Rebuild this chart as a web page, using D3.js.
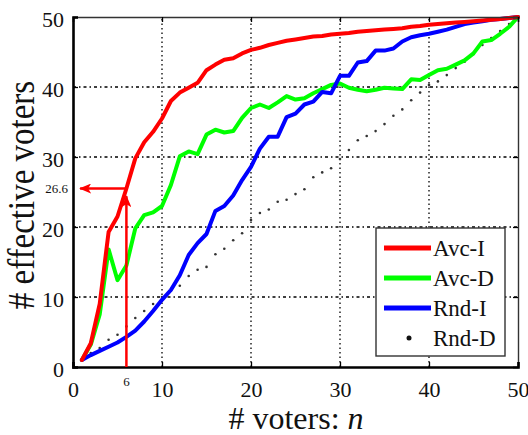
<!DOCTYPE html>
<html>
<head>
<meta charset="utf-8">
<script src="https://cdn.jsdelivr.net/npm/d3@7"></script>
<style>
  body { margin: 0; background: #fff; }
  svg text { font-family: "Liberation Serif", "Times New Roman", Times, serif; fill: #111; }
</style>
</head>
<body>
<div id="chart"></div>
<script>
// voters n = 1..50
const voters = d3.range(1, 51);

const avcI = [1, 3.4, 9, 19.3, 21.5, 25.5, 29.8, 32.1, 33.6, 35.5,
  38.0, 39.2, 39.9, 40.6, 42.4, 43.2, 43.9, 44.1, 44.8, 45.3,
  45.6, 46.0, 46.3, 46.6, 46.8, 47.0, 47.2, 47.3, 47.5, 47.6,
  47.7, 47.9, 48.0, 48.1, 48.2, 48.3, 48.4, 48.6, 48.7, 48.9,
  49.0, 49.1, 49.2, 49.3, 49.4, 49.5, 49.6, 49.7, 49.85, 50];

const avcD = [1, 3.2, 7.5, 16.8, 12.4, 14.5, 19.8, 21.7, 22.1, 23.0,
  26.0, 30.1, 30.8, 30.4, 33.2, 33.9, 33.5, 33.7, 35.6, 37.0,
  37.5, 37.0, 37.8, 38.7, 38.2, 38.4, 39.1, 39.7, 40.3, 40.5,
  39.9, 39.6, 39.4, 39.6, 39.9, 39.8, 39.7, 41.1, 41.0, 41.7,
  42.4, 42.6, 43.2, 43.8, 44.8, 46.5, 46.7, 47.6, 48.6, 50];

const rndI = [1, 1.7, 2.3, 2.9, 3.5, 4.3, 5.2, 6.5, 8.0, 9.6,
  11.0, 13.1, 16.0, 17.7, 19.0, 22.3, 23.0, 24.5, 26.7, 28.6,
  31.2, 32.9, 32.9, 35.7, 36.2, 37.5, 37.9, 39.3, 39.1, 41.6,
  41.6, 43.5, 43.7, 45.2, 45.2, 45.5, 46.5, 47.1, 47.4, 47.6,
  47.9, 48.2, 48.6, 49.0, 49.2, 49.4, 49.6, 49.7, 49.85, 50];

const rndD = [1, 2, 2.7, 3.9, 4.6, 5.8, 7.0, 8.0, 9.0, 10.0,
  10.9, 11.6, 13.0, 13.9, 14.3, 16.1, 16.9, 18.1, 19.1, 21.0,
  22.0, 22.5, 23.6, 23.9, 24.7, 25.4, 27.1, 27.8, 28.4, 29.7,
  31.0, 32.4, 33.0, 33.7, 34.7, 35.9, 36.8, 38.1, 39.2, 40.3,
  40.8, 41.7, 42.7, 43.6, 44.7, 46.0, 47.0, 48.0, 49.0, 50];

const ticks = [0, 10, 20, 30, 40, 50];
const seriesNames = ["Avc-I", "Avc-D", "Rnd-I", "Rnd-D"];
const seriesColors = ["#ff0000", "#00ff00", "#0000ff", "#222"];

// annotation: n = 6 gives 26.6 effective voters
const markN = 6;
const markLabel = "26.6";
const markLevel = 25.5;   // where the arrow is drawn in the original
const arrowTipN = 0.8;
const arrowTipEff = 24.4;

const serif = '"Liberation Serif", "Times New Roman", Times, serif';
const width = 528, height = 435;
const svg = d3.select('#chart').append('svg')
  .attr('width', width)
  .attr('height', height)
  .attr('font-family', serif)
  .style('background', '#fff');

const x = d3.scaleLinear().domain([0, 50]).range([73, 518]);
const y = d3.scaleLinear().domain([0, 50]).range([367, 17]);

// grid
const gridVals = ticks.slice(1, -1);
svg.append('g').selectAll('line').data(gridVals).enter().append('line')
  .attr('x1', d => x(d)).attr('x2', d => x(d))
  .attr('y1', y(0)).attr('y2', y(50))
  .attr('stroke', '#000').attr('stroke-width', 1.3)
  .attr('stroke-dasharray', '1.5,3');
svg.append('g').selectAll('line').data(gridVals).enter().append('line')
  .attr('y1', d => y(d)).attr('y2', d => y(d))
  .attr('x1', x(0)).attr('x2', x(50))
  .attr('stroke', '#000').attr('stroke-width', 1.3)
  .attr('stroke-dasharray', '3,3,1.5,3');

// Rnd-D dots
svg.append('g').selectAll('circle').data(voters).enter().append('circle')
  .attr('cx', (d, i) => x(d))
  .attr('cy', (d, i) => y(rndD[i]))
  .attr('r', 1.3)
  .attr('fill', '#333');

const line = d3.line()
  .x(d => x(d[0]))
  .y(d => y(d[1]));

const drawSeries = (vals, color) => {
  svg.append('path')
    .datum(voters.map((n, i) => [n, vals[i]]))
    .attr('d', line)
    .attr('fill', 'none')
    .attr('stroke', color)
    .attr('stroke-width', 4)
    .attr('stroke-linejoin', 'round')
    .attr('stroke-linecap', 'round');
};
drawSeries(avcD, seriesColors[1]);
drawSeries(rndI, seriesColors[2]);
drawSeries(avcI, seriesColors[0]);

// axes box
const axisLeft = d3.axisLeft(y).tickValues(ticks).tickSize(-5).tickPadding(9);
const axisBottom = d3.axisBottom(x).tickValues(ticks).tickSize(-5).tickPadding(14);
const axisRight = d3.axisRight(y).tickValues(ticks).tickSize(-5).tickFormat('');
const axisTop = d3.axisTop(x).tickValues(ticks).tickSize(-5).tickFormat('');

svg.append('g').attr('transform', `translate(${x(50)},0)`).call(axisRight)
  .call(g => g.select('.domain').attr('stroke', '#333').attr('stroke-width', 1.4));
svg.append('g').attr('transform', `translate(0,${y(50)})`).call(axisTop)
  .call(g => g.select('.domain').attr('stroke', '#333').attr('stroke-width', 1.4));

const gy = svg.append('g').attr('transform', `translate(${x(0)},0)`).call(axisLeft);
gy.attr('font-family', serif);
gy.select('.domain').attr('stroke', '#000').attr('stroke-width', 2.6);
gy.selectAll('.tick text')
  .attr('font-size', 22).attr('dy', '0.45em').attr('fill', '#111');

const gx = svg.append('g').attr('transform', `translate(0,${y(0)})`).call(axisBottom);
gx.attr('font-family', serif);
gx.select('.domain').attr('stroke', '#000').attr('stroke-width', 2.6);
gx.selectAll('.tick text')
  .attr('font-size', 22).attr('fill', '#111');
svg.selectAll('.tick line').attr('stroke', '#000').attr('stroke-width', 1.3);

// axis titles
svg.append('text')
  .attr('x', 296).attr('y', 429)
  .attr('text-anchor', 'middle')
  .attr('font-size', 32)
  .html('# voters: <tspan font-style="italic">n</tspan>');

svg.append('text')
  .attr('transform', `translate(34,195) rotate(-90) scale(1,1.15)`)
  .attr('text-anchor', 'middle')
  .attr('font-size', 33)
  .text('# effective voters');

// annotation arrows
const defs = svg.append('defs');
defs.append('marker')
  .attr('id', 'arrowhead')
  .attr('markerUnits', 'userSpaceOnUse')
  .attr('viewBox', '0 0 12 10')
  .attr('refX', 11).attr('refY', 5)
  .attr('markerWidth', 12).attr('markerHeight', 10)
  .attr('orient', 'auto')
  .append('path')
  .attr('d', 'M0,0 L12,5 L0,10 L3,5 Z')
  .attr('fill', '#ff0000');

svg.append('line')
  .attr('x1', x(markN)).attr('x2', x(markN))
  .attr('y1', y(0)).attr('y2', y(arrowTipEff))
  .attr('stroke', '#ff0000').attr('stroke-width', 2.5)
  .attr('marker-end', 'url(#arrowhead)');
svg.append('line')
  .attr('x1', x(markN)).attr('x2', x(arrowTipN))
  .attr('y1', y(markLevel)).attr('y2', y(markLevel))
  .attr('stroke', '#ff0000').attr('stroke-width', 2.5)
  .attr('marker-end', 'url(#arrowhead)');

svg.append('text')
  .attr('x', x(0) - 5).attr('y', y(markLevel)).attr('dy', '0.35em')
  .attr('text-anchor', 'end').attr('font-size', 13)
  .text(markLabel);
svg.append('text')
  .attr('x', x(markN)).attr('y', y(0) + 19)
  .attr('text-anchor', 'middle').attr('font-size', 13)
  .text(markN);

// legend
const legend = svg.append('g').attr('transform', 'translate(376,228)');
legend.append('rect')
  .attr('width', 129).attr('height', 128)
  .attr('fill', '#fff').attr('stroke', '#333').attr('stroke-width', 1.4);

const items = legend.selectAll('.item').data(seriesNames).enter().append('g')
  .attr('class', 'item')
  .attr('transform', (d, i) => `translate(0,${20 + i * 30})`);

items.filter((d, i) => i < 3).append('line')
  .attr('x1', 8).attr('x2', 55)
  .attr('stroke', (d, i) => seriesColors[i])
  .attr('stroke-width', 5);
items.filter((d, i) => i === 3).append('circle')
  .attr('cx', 33).attr('r', 2.5).attr('fill', '#111');

items.append('text')
  .attr('x', 57).attr('y', 8)
  .attr('font-size', 23)
  .text(d => d);
</script>
</body>
</html>
